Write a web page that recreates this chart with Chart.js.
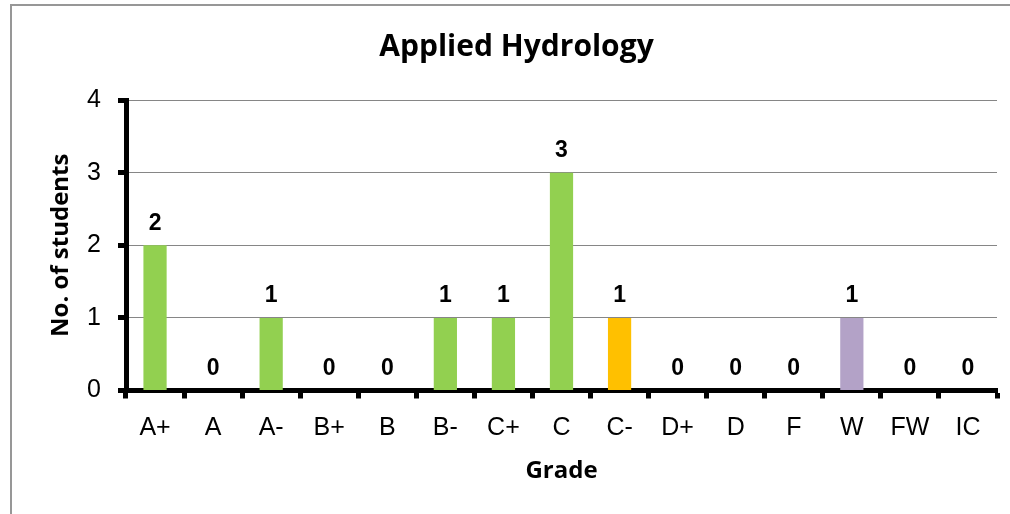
<!DOCTYPE html>
<html>
<head>
<meta charset="utf-8">
<title>Applied Hydrology</title>
<script src="https://cdn.jsdelivr.net/npm/chart.js@4/dist/chart.umd.min.js"></script>
<style>
    html, body { margin: 0; padding: 0; background: #fff; overflow: hidden; }
    #wrap { width: 1010px; height: 514px; }
</style>
</head>
<body>
<div id="wrap">
    <canvas id="grades-chart" width="1010" height="514"></canvas>
</div>
<script>
// Grade distribution data
const grades = ['A+', 'A', 'A-', 'B+', 'B', 'B-', 'C+', 'C', 'C-', 'D+', 'D', 'F', 'W', 'FW', 'IC'];
const students = [2, 0, 1, 0, 0, 1, 1, 3, 1, 0, 0, 0, 1, 0, 0];
const yTicks = [0, 1, 2, 3, 4];

// Bar colours: green by default, C- orange, W purple
const barColours = grades.map(g => g === 'C-' ? '#FFC000' : (g === 'W' ? '#B3A2C7' : '#92D050'));

Chart.defaults.color = '#000';

// Outer chart frame (only left and top edges are visible in the picture)
const outerFrame = {
    id: 'outerFrame',
    beforeDraw(chart) {
        const c = chart.ctx;
        c.save();
        c.strokeStyle = '#979797';
        c.lineWidth = 2;
        c.beginPath();
        c.moveTo(11, chart.height + 5);
        c.lineTo(11, 5);
        c.lineTo(chart.width + 5, 5);
        c.stroke();
        c.restore();
    }
};

// Draw the value above each bar
const valueLabels = {
    id: 'valueLabels',
    afterDatasetsDraw(chart) {
        const c = chart.ctx;
        const meta = chart.getDatasetMeta(0);
        c.save();
        c.font = 'bold 23px "Liberation Sans", Arial, sans-serif';
        c.fillStyle = '#000';
        c.textAlign = 'center';
        c.textBaseline = 'middle';
        meta.data.forEach((bar, i) => {
            c.fillText(String(students[i]), bar.x, bar.y - 22);
        });
        c.restore();
    }
};

const ctx = document.getElementById('grades-chart').getContext('2d');
new Chart(ctx, {
    type: 'bar',
    data: {
        labels: grades,
        datasets: [{
            data: students,
            backgroundColor: barColours,
            borderWidth: 0,
            barPercentage: 0.4,
            categoryPercentage: 1
        }]
    },
    options: {
        responsive: false,
        animation: false,
        layout: { padding: { left: 36, right: 13, top: 0, bottom: 0 } },
        plugins: {
            legend: { display: false },
            tooltip: { enabled: false },
            title: {
                display: true,
                text: 'Applied Hydrology',
                color: '#000',
                font: { family: '"Open Sans", sans-serif', size: 30, weight: 'bold' },
                padding: { top: 29, bottom: 35 }
            }
        },
        scales: {
            x: {
                offset: true,
                border: { display: true, color: '#000', width: 5 },
                grid: {
                    drawOnChartArea: false,
                    drawTicks: true,
                    tickLength: 8,
                    tickWidth: 5,
                    tickColor: '#000'
                },
                ticks: {
                    color: '#000',
                    padding: 15,
                    maxRotation: 0,
                    autoSkip: false,
                    font: { family: '"Liberation Sans", Arial, sans-serif', size: 25 }
                },
                title: {
                    display: true,
                    text: 'Grade',
                    color: '#000',
                    font: { family: '"Open Sans", sans-serif', size: 24, weight: 'bold' },
                    padding: { top: 0, bottom: 28 }
                },
                afterFit(scale) { scale.height = 123.5; }
            },
            y: {
                min: 0,
                max: 4,
                afterBuildTicks(scale) { scale.ticks = yTicks.map(v => ({ value: v })); },
                border: { display: true, color: '#000', width: 5 },
                grid: {
                    color: '#868686',
                    lineWidth: 1,
                    drawTicks: true,
                    tickLength: 8,
                    tickWidth: 5,
                    tickColor: '#000'
                },
                ticks: {
                    color: '#000',
                    padding: 17,
                    font: { family: '"Liberation Sans", Arial, sans-serif', size: 25 }
                },
                title: {
                    display: true,
                    text: 'No. of students',
                    color: '#000',
                    font: { family: '"Open Sans", sans-serif', size: 24, weight: 'bold' },
                    padding: { top: 11, bottom: 0 }
                },
                afterFit(scale) { scale.width = 90; }
            }
        }
    },
    plugins: [outerFrame, valueLabels]
});
</script>
</body>
</html>
